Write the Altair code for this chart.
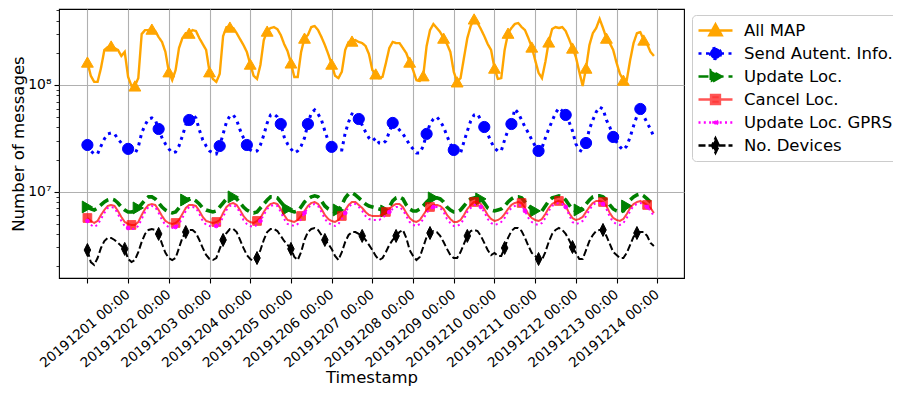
import altair as alt
import pandas as pd

SERIES = ["All MAP", "Send Autent. Info.", "Update Loc.", "Cancel Loc.",
          "Update Loc. GPRS", "No. Devices"]

DAY_LABELS = ["20191201 00:00", "20191202 00:00", "20191203 00:00", "20191204 00:00",
              "20191205 00:00", "20191206 00:00", "20191207 00:00", "20191208 00:00",
              "20191209 00:00", "20191210 00:00", "20191211 00:00", "20191212 00:00",
              "20191213 00:00", "20191214 00:00"]

# sample times (hours since 20191201 00:00), one reading every 2 hours
HOURS = list(range(0, 336, 2))

# values in millions of messages (one line per day, 00h .. 22h)
ALL_MAP = [
    164, 122, 107, 107, 144, 213, 227, 232, 222, 213, 187, 204,
    119, 98, 98, 116, 300, 327, 327, 334, 320, 281, 253, 204,
    133, 111, 138, 222, 275, 306, 306, 327, 320, 275, 242, 213,
    133, 114, 107, 127, 287, 349, 349, 342, 306, 269, 237, 204,
    157, 122, 114, 154, 264, 320, 342, 349, 334, 294, 242, 208,
    161, 119, 119, 204, 275, 294, 349, 357, 327, 281, 237, 195,
    157, 122, 116, 133, 213, 253, 258, 264, 253, 247, 232, 195,
    138, 127, 116, 119, 161, 222, 253, 247, 247, 222, 199, 164,
    138, 111, 109, 122, 232, 327, 373, 342, 313, 275, 242, 204,
    133, 107, 116, 179, 275, 357, 416, 381, 334, 287, 242, 213,
    144, 114, 116, 213, 306, 342, 373, 381, 349, 327, 275, 227,
    171, 130, 116, 164, 253, 334, 349, 342, 349, 320, 269, 222,
    183, 133, 98, 144, 237, 306, 342, 416, 342, 275, 247, 213,
    161, 127, 111, 111, 171, 247, 306, 313, 264, 242, 204, 187,
]
SEND_AUTH = [
    27.4, 24.1, 22.6, 22.6, 26.8, 31.2, 34.8, 35.5, 34.8, 31.2, 28.6, 26.8,
    25.2, 23.6, 22.6, 26.3, 35.5, 42.2, 48.0, 49.1, 47.0, 38.7, 31.9, 28.0,
    25.2, 23.1, 23.6, 26.8, 33.3, 42.2, 47.0, 52.4, 49.1, 37.9, 30.6, 26.8,
    24.1, 23.1, 22.6, 26.8, 34.8, 45.0, 51.3, 52.4, 47.0, 37.9, 31.9, 27.4,
    24.6, 23.6, 24.1, 27.4, 34.0, 44.1, 52.4, 53.5, 50.2, 43.1, 32.6, 28.0,
    25.2, 23.1, 24.1, 26.8, 31.9, 43.1, 54.7, 58.3, 53.5, 47.0, 37.1, 29.9,
    26.3, 25.2, 24.6, 24.6, 35.5, 45.0, 53.5, 52.4, 48.0, 42.2, 36.3, 31.9,
    29.9, 31.9, 28.6, 28.0, 29.9, 36.3, 44.1, 41.3, 37.9, 34.8, 31.2, 27.4,
    25.2, 23.1, 23.1, 26.8, 34.8, 43.1, 48.0, 50.2, 46.0, 40.4, 33.3, 28.0,
    24.6, 23.6, 23.1, 29.3, 37.1, 46.0, 52.4, 53.5, 47.0, 40.4, 34.8, 29.3,
    25.7, 24.1, 24.1, 30.6, 37.9, 43.1, 59.6, 54.7, 47.0, 40.4, 35.5, 30.6,
    26.8, 24.1, 25.7, 31.9, 38.7, 46.0, 54.7, 60.9, 57.1, 52.4, 45.0, 37.1,
    28.0, 24.6, 23.6, 28.6, 38.7, 47.0, 55.9, 62.2, 59.6, 47.0, 40.4, 32.6,
    29.3, 26.3, 24.6, 26.8, 32.6, 41.3, 51.3, 59.6, 51.3, 44.1, 38.7, 32.6,
]
UPDATE_LOC = [
    7.19, 6.89, 6.74, 7.04, 7.51, 8.01, 8.36, 8.56, 8.36, 7.84, 7.19, 6.74,
    6.46, 6.46, 6.60, 7.04, 7.67, 8.36, 8.94, 8.94, 8.56, 7.84, 7.19, 6.74,
    6.46, 6.32, 6.46, 7.04, 7.84, 8.36, 8.56, 8.56, 8.19, 7.67, 7.04, 6.74,
    6.60, 6.46, 6.60, 7.19, 7.84, 8.56, 8.75, 8.94, 8.56, 7.84, 7.19, 6.74,
    6.46, 6.32, 6.46, 7.04, 7.67, 8.36, 8.94, 8.94, 8.75, 8.01, 7.35, 6.89,
    6.60, 6.46, 6.60, 7.19, 8.01, 8.56, 8.94, 9.14, 8.94, 8.19, 7.35, 6.89,
    6.60, 6.46, 6.74, 7.51, 8.75, 9.54, 9.75, 9.34, 8.75, 8.19, 7.67, 7.35,
    7.19, 7.04, 6.89, 6.74, 6.60, 7.19, 8.19, 8.75, 8.94, 8.56, 7.51, 6.89,
    6.60, 6.60, 6.89, 7.35, 8.01, 8.56, 8.75, 8.75, 8.56, 8.01, 7.19, 6.74,
    6.46, 6.46, 6.74, 7.35, 8.01, 8.56, 8.75, 8.94, 8.56, 7.84, 7.04, 6.74,
    6.60, 6.74, 6.89, 7.35, 8.01, 8.56, 8.94, 8.94, 8.75, 8.01, 7.35, 6.89,
    6.60, 6.46, 6.60, 7.35, 8.19, 8.75, 8.94, 9.14, 8.94, 8.36, 7.51, 6.89,
    6.60, 6.74, 7.04, 7.67, 8.36, 8.94, 9.14, 9.14, 8.94, 8.36, 7.51, 6.89,
    6.60, 6.46, 6.60, 7.35, 8.36, 8.94, 9.34, 9.54, 9.14, 8.56, 8.01, 7.84,
]
CANCEL_LOC = [
    5.67, 5.32, 5.09, 5.32, 6.05, 6.74, 7.35, 7.51, 7.35, 6.60, 5.80, 5.20,
    4.98, 4.88, 4.88, 5.20, 6.05, 6.89, 7.51, 7.67, 7.51, 6.74, 5.92, 5.32,
    5.09, 4.98, 5.09, 5.43, 6.18, 7.04, 7.51, 7.51, 7.35, 6.60, 5.80, 5.32,
    5.20, 5.09, 5.20, 5.43, 6.32, 7.19, 7.67, 7.84, 7.51, 6.74, 5.92, 5.43,
    5.20, 5.09, 5.32, 5.67, 6.46, 7.19, 7.67, 7.84, 7.67, 6.89, 6.05, 5.43,
    5.32, 5.20, 5.43, 5.92, 6.60, 7.35, 7.84, 8.01, 7.67, 6.89, 6.05, 5.55,
    5.32, 5.20, 5.43, 5.92, 6.74, 7.51, 8.01, 8.01, 7.51, 7.04, 6.46, 6.05,
    5.92, 5.92, 5.92, 6.18, 6.46, 6.89, 7.35, 7.67, 7.67, 7.19, 6.32, 5.67,
    5.32, 5.20, 5.43, 6.05, 6.74, 7.19, 7.51, 7.51, 7.35, 6.89, 6.05, 5.55,
    5.20, 5.20, 5.43, 6.05, 6.89, 7.51, 8.01, 8.01, 7.67, 6.89, 6.05, 5.55,
    5.32, 5.43, 5.67, 6.18, 6.89, 7.51, 7.84, 8.01, 7.84, 7.04, 6.18, 5.67,
    5.43, 5.32, 5.55, 6.18, 7.04, 7.67, 8.01, 8.19, 8.01, 7.35, 6.32, 5.67,
    5.43, 5.55, 5.80, 6.46, 7.19, 7.84, 8.19, 8.19, 8.01, 7.35, 6.32, 5.67,
    5.43, 5.32, 5.55, 6.18, 7.04, 7.67, 8.01, 8.19, 7.84, 7.51, 7.04, 6.32,
]
UPDATE_GPRS = [
    5.32, 4.88, 4.67, 4.88, 5.55, 6.32, 7.04, 7.19, 7.04, 6.18, 5.32, 4.77,
    4.57, 4.47, 4.47, 4.77, 5.55, 6.46, 7.19, 7.35, 7.19, 6.32, 5.43, 4.88,
    4.67, 4.57, 4.67, 4.98, 5.67, 6.60, 7.19, 7.19, 7.04, 6.18, 5.32, 4.88,
    4.77, 4.67, 4.77, 4.98, 5.80, 6.74, 7.35, 7.51, 7.19, 6.32, 5.43, 4.98,
    4.77, 4.67, 4.88, 5.32, 6.05, 6.89, 7.35, 7.51, 7.35, 6.46, 5.55, 4.98,
    4.88, 4.77, 4.98, 5.55, 6.32, 7.04, 7.51, 7.67, 7.35, 6.46, 5.55, 5.09,
    4.88, 4.77, 4.98, 5.55, 6.32, 7.19, 7.67, 7.67, 7.19, 6.60, 5.92, 5.55,
    5.43, 5.43, 5.43, 5.67, 6.05, 6.46, 6.89, 7.19, 7.19, 6.74, 5.92, 5.20,
    4.88, 4.77, 4.98, 5.55, 6.32, 6.89, 7.19, 7.19, 7.04, 6.46, 5.55, 5.09,
    4.77, 4.77, 4.98, 5.55, 6.46, 7.04, 7.51, 7.51, 7.19, 6.46, 5.55, 5.09,
    4.88, 4.98, 5.20, 5.67, 6.46, 7.04, 7.35, 7.51, 7.35, 6.60, 5.67, 5.20,
    4.98, 4.88, 5.09, 5.67, 6.60, 7.35, 7.67, 7.84, 7.67, 7.19, 6.05, 5.20,
    4.98, 5.09, 5.32, 5.92, 6.74, 7.51, 7.84, 7.84, 7.67, 6.89, 5.80, 5.20,
    4.98, 4.88, 5.09, 5.67, 6.60, 7.35, 7.67, 7.84, 7.51, 7.19, 6.60, 5.92,
]
DEVICES = [
    2.84, 2.19, 2.06, 2.39, 2.97, 3.45, 3.69, 3.69, 3.53, 3.31, 3.10, 2.91,
    2.34, 2.19, 2.29, 2.72, 3.38, 4.02, 4.38, 4.47, 4.38, 4.02, 3.24, 2.67,
    2.39, 2.29, 2.39, 2.97, 3.69, 4.19, 4.38, 4.38, 4.10, 3.53, 2.97, 2.55,
    2.34, 2.29, 2.39, 2.91, 3.53, 4.10, 4.47, 4.47, 4.19, 3.53, 2.97, 2.55,
    2.34, 2.24, 2.39, 2.84, 3.53, 4.19, 4.47, 4.47, 4.28, 3.85, 3.45, 3.17,
    2.91, 2.45, 2.29, 2.72, 3.53, 4.19, 4.47, 4.57, 4.38, 3.93, 3.53, 3.24,
    2.91, 2.50, 2.29, 2.72, 3.38, 3.93, 4.19, 4.19, 4.02, 3.85, 3.53, 3.17,
    2.84, 2.50, 2.29, 2.39, 2.72, 3.17, 3.53, 3.85, 4.19, 4.38, 3.69, 2.84,
    2.50, 2.29, 2.45, 3.03, 3.77, 4.10, 4.28, 4.19, 3.85, 3.38, 2.91, 2.55,
    2.39, 2.39, 2.72, 3.24, 3.85, 4.28, 4.38, 4.28, 3.85, 3.31, 2.84, 2.55,
    2.67, 2.50, 2.50, 2.97, 3.69, 4.28, 4.57, 4.57, 4.28, 3.69, 3.10, 2.67,
    2.50, 2.34, 2.29, 2.72, 3.38, 4.02, 4.38, 4.57, 4.38, 4.02, 3.53, 3.03,
    2.67, 2.34, 2.34, 2.84, 3.45, 3.93, 4.28, 4.38, 4.38, 3.85, 3.24, 2.72,
    2.55, 2.39, 2.39, 2.67, 3.17, 3.77, 4.10, 4.19, 4.19, 3.85, 3.31, 3.10,
]

# indices (into HOURS) of the samples that carry a marker
MARKER_IDX = [
    [0, 7, 14, 19, 24, 30, 36, 42, 48, 53, 60, 64, 72, 78, 85, 95, 99, 105, 109,
     114, 120, 124, 131, 136, 143, 147, 153, 158, 164],
    [0, 12, 21, 30, 39, 47, 57, 65, 72, 80, 90, 100, 108, 117, 125, 133, 141,
     147, 155, 163],
    [0, 15, 29, 43, 59, 74, 88, 102, 116, 132, 145, 159],
    [0, 13, 26, 38, 50, 63, 75, 88, 101, 114, 128, 139, 152, 165],
    [0, 12, 26, 38, 51, 64, 76, 89, 102, 116, 129, 141, 152, 165],
    [0, 11, 21, 29, 40, 50, 60, 70, 81, 91, 101, 112, 123, 133, 143, 152, 162],
]

Y_MAJOR = [10000000, 100000000]
Y_MAJOR_LABELS = ["10\u2077", "10\u2078"]
Y_MINOR = [2e6, 3e6, 4e6, 5e6, 6e6, 7e6, 8e6, 9e6,
           2e7, 3e7, 4e7, 5e7, 6e7, 7e7, 8e7, 9e7,
           2e8, 3e8, 4e8, 5e8]

# ---- styles ----
COLORS = ["#FFA500", "#0000FF", "#008000", "#FF0000", "#FF00FF", "#000000"]
LEGEND_STROKES = ["#FFA500", "#0000FF", "#008000", "#FF5555", "#FF00FF", "#000000"]
LEGEND_FILLS = ["#FFA500", "#0000FF", "#008000", "#FF3b3b", "#FF00FF", "#000000"]
LINE_W = [2.4, 3.0, 3.6, 2.0, 2.0, 2.0]
DASHES = [[1, 0], [3, 4.5], [10, 5], [1, 0], [2, 3.3], [7, 3]]
LINE_OP = [1, 1, 1, 0.72, 1, 1]
SHAPES = ["triangle-up", "circle", "triangle-right", "square", "circle",
          "M0,-1L0.5,0L0,1L-0.5,0Z"]
SIZES = [140, 125, 140, 75, 14, 170]
MARK_OP = [1, 1, 1, 0.72, 1, 1]
LEG_LINE = "M-1,0L1,0"
LEGEND_SHAPES = [
    LEG_LINE + "M0,-0.36L0.36,0.28L-0.36,0.28Z",
    LEG_LINE + "M0.32,0A0.32,0.32,0,1,1,-0.32,0A0.32,0.32,0,1,1,0.32,0Z",
    LEG_LINE + "M0.36,0L-0.28,0.36L-0.28,-0.36Z",
    LEG_LINE + "M-0.26,-0.26L0.26,-0.26L0.26,0.26L-0.26,0.26Z",
    LEG_LINE + "M0.12,0A0.12,0.12,0,1,1,-0.12,0A0.12,0.12,0,1,1,0.12,0Z",
    LEG_LINE + "M0,-0.42L0.2,0L0,0.42L-0.2,0Z",
]

# ---- table ----
rows = []
for name, vals, marks in zip(SERIES,
                             [ALL_MAP, SEND_AUTH, UPDATE_LOC, CANCEL_LOC, UPDATE_GPRS, DEVICES],
                             MARKER_IDX):
    mset = set(marks)
    for i, v in enumerate(vals):
        rows.append({"series": name, "hour": HOURS[i], "value": v * 1e6,
                     "marker": i in mset})
df = pd.DataFrame(rows)

FONT = "DejaVu Sans"
x_ticks = list(range(0, 337, 24))
label_list = "[" + ",".join("'" + s + "'" for s in DAY_LABELS) + "]"
x_label_expr = label_list + "[round(datum.value/24)] || ''"

y_label_expr = ""
for v, lab in zip(Y_MAJOR, Y_MAJOR_LABELS):
    y_label_expr += f"datum.value == {v} ? '{lab}' : "
y_label_expr += "''"
major_test = " || ".join(f"datum.value == {v}" for v in Y_MAJOR)

x_scale = alt.Scale(domain=[-16.75, 351.75], nice=False, zero=False)
y_scale = alt.Scale(type="log", domain=[1.553e6, 5.155e8], nice=False)

x_axis = alt.Axis(values=x_ticks, labelExpr=x_label_expr, labelAngle=-40,
                  labelAlign="right", labelBaseline="top", labelOffset=36,
                  labelPadding=4, labelFontSize=13.6, labelOverlap=False,
                  labelFlush=False, labelBound=False, tickSize=5, tickWidth=1.1,
                  tickColor="black", domain=False, grid=True, gridColor="#b0b0b0",
                  gridWidth=1.1, title="Timestamp", titleFontSize=16.5,
                  titleFontWeight="normal", titlePadding=0)
y_axis = alt.Axis(values=Y_MAJOR + Y_MINOR, labelExpr=y_label_expr,
                  labelFontSize=13.9, labelPadding=3, domain=False,
                  tickColor="black",
                  tickSize={"condition": {"test": major_test, "value": 5}, "value": 3},
                  tickWidth={"condition": {"test": major_test, "value": 1.1}, "value": 0.8},
                  grid=True, gridColor="#b0b0b0", gridWidth=1.1,
                  gridOpacity={"condition": {"test": major_test, "value": 1}, "value": 0},
                  title="Number of messages", titleFontSize=16.5,
                  titleFontWeight="normal", titlePadding=1)

X_ENC = alt.X("hour:Q", scale=x_scale, axis=x_axis)
Y_ENC = alt.Y("value:Q", scale=y_scale, axis=y_axis)

layers = []
for i, name in enumerate(SERIES):
    base = alt.Chart(df).transform_filter(alt.datum.series == name)
    line = base.mark_line(color=COLORS[i], strokeWidth=LINE_W[i], strokeDash=DASHES[i],
                          opacity=LINE_OP[i], strokeCap="butt").encode(x=X_ENC, y=Y_ENC)
    pts = base.transform_filter(alt.datum.marker == True).mark_point(
        shape=SHAPES[i], size=SIZES[i], filled=True, fill=COLORS[i], stroke=COLORS[i],
        strokeWidth=1, opacity=MARK_OP[i]).encode(x=X_ENC, y=Y_ENC)
    layers += [line, pts]

leg = alt.Legend(title=None)
legend_layer = alt.Chart(df).transform_filter(alt.datum.marker == True).mark_point(
    filled=True, opacity=0).encode(
    x=X_ENC, y=Y_ENC,
    shape=alt.Shape("series:N", scale=alt.Scale(domain=SERIES, range=LEGEND_SHAPES), legend=leg),
    fill=alt.Fill("series:N", scale=alt.Scale(domain=SERIES, range=LEGEND_FILLS), legend=leg),
    stroke=alt.Stroke("series:N", scale=alt.Scale(domain=SERIES, range=LEGEND_STROKES), legend=leg),
    strokeDash=alt.StrokeDash("series:N", scale=alt.Scale(domain=SERIES, range=DASHES), legend=leg),
)

chart = alt.layer(*layers, legend_layer).properties(
    width=625, height=269,
    padding={"left": 51, "top": 1, "right": 209, "bottom": 109},
    autosize=alt.AutoSizeParams(type="none"),
).configure(font=FONT).configure_view(
    stroke="black", strokeWidth=1.1
).configure_axis(
    labelColor="black", titleColor="black", labelFont=FONT, titleFont=FONT
).configure_legend(
    orient="none", legendX=633, legendY=6, strokeColor="#cccccc", fillColor="white",
    cornerRadius=4, padding=5, clipHeight=21, rowPadding=2, labelFont=FONT,
    labelFontSize=16.5, labelColor="black", symbolSize=1156, symbolStrokeWidth=2.5,
    symbolOpacity=1, labelOffset=10, labelLimit=400
)

chart.save("out.html", embed_options={"renderer": "svg", "actions": False})
